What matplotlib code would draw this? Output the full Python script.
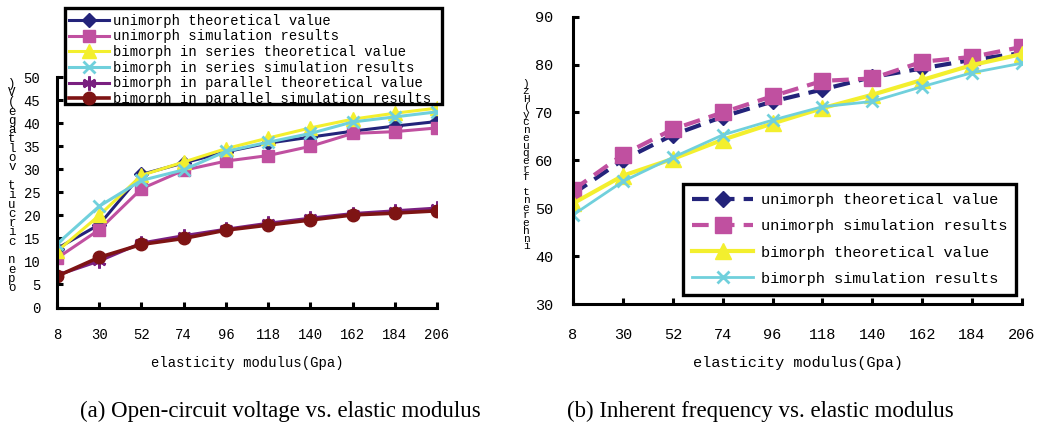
import matplotlib
matplotlib.use("Agg")
import matplotlib.pyplot as plt
from matplotlib.patches import Rectangle

# x categories (elastic modulus, GPa)
modulus = ["8", "30", "52", "74", "96", "118", "140", "162", "184", "206"]

# (a) open-circuit voltage (V)
uni_theory_v = [12.8, 18.0, 28.9, 31.4, 33.8, 35.7, 37.0, 38.3, 39.4, 40.4]
uni_sim_v = [10.7, 16.9, 25.8, 29.8, 31.8, 33.0, 35.0, 37.8, 38.2, 39.0]
series_theory_v = [12.2, 20.0, 28.7, 31.6, 34.5, 36.8, 39.0, 40.9, 42.2, 43.3]
series_sim_v = [13.8, 22.0, 27.6, 29.9, 33.9, 35.9, 37.8, 40.3, 41.4, 42.5]
parallel_theory_v = [7.0, 10.1, 14.0, 15.6, 17.0, 18.3, 19.4, 20.4, 21.0, 21.6]
parallel_sim_v = [6.8, 10.9, 13.7, 15.0, 16.8, 17.9, 19.0, 20.1, 20.5, 21.0]

# (b) inherent frequency (Hz)
uni_theory_f = [53.0, 60.1, 65.3, 69.1, 72.3, 74.8, 77.4, 79.2, 81.0, 82.4]
uni_sim_f = [53.8, 61.2, 66.5, 70.0, 73.4, 76.6, 77.1, 80.6, 81.6, 83.7]
bi_theory_f = [51.0, 56.8, 60.3, 64.3, 67.7, 70.9, 73.7, 76.8, 79.9, 82.2]
bi_sim_f = [48.6, 55.6, 60.6, 65.3, 68.4, 71.2, 72.3, 75.4, 78.3, 80.3]

NAVY = "#23237a"
PINK = "#c050a0"
YELLOW = "#f3ef2e"
CYAN = "#70d0dc"
PURPLE = "#7a2080"
DARKRED = "#7e1414"

MONO = "Liberation Mono"
W, H = 1040, 432

fig = plt.figure(figsize=(10.4, 4.32), dpi=100)


def style_axes(ax, fs, xpad, ypad):
    for side in ("top", "right"):
        ax.spines[side].set_visible(False)
    for side in ("left", "bottom"):
        ax.spines[side].set_linewidth(2.2)
        ax.spines[side].set_color("black")
    ax.tick_params(direction="in", length=4, width=2.2, labelsize=fs)
    ax.tick_params(axis="x", pad=xpad)
    ax.tick_params(axis="y", pad=ypad)
    for lab in ax.get_xticklabels() + ax.get_yticklabels():
        lab.set_fontfamily(MONO)


# ---------- (a) ----------
ax1 = fig.add_axes([57 / W, 1 - 307.5 / H, 380 / W, 230.2 / H])
ax1.plot(modulus, uni_theory_v, color=NAVY, lw=2.2, marker="D", ms=7,
         label="unimorph theoretical value")
ax1.plot(modulus, uni_sim_v, color=PINK, lw=2.2, marker="s", ms=9,
         label="unimorph simulation results")
ax1.plot(modulus, series_theory_v, color=YELLOW, lw=2.2, marker="^", ms=10,
         label="bimorph in series theoretical value")
ax1.plot(modulus, series_sim_v, color=CYAN, lw=2.2, marker="x", ms=8, mew=2,
         label="bimorph in series simulation results")
ax1.plot(modulus, parallel_theory_v, color=PURPLE, lw=2.2, marker=(6, 2, 0), ms=10, mew=2,
         label="bimorph in parallel theoretical value")
ax1.plot(modulus, parallel_sim_v, color=DARKRED, lw=2.6, marker="o", ms=9,
         label="bimorph in parallel simulation results")
ax1.set_xlim(0, 9)
ax1.set_ylim(0, 50)
ax1.set_yticks(range(0, 51, 5))
style_axes(ax1, 10, 15, 12)
ax1.set_xlabel("elasticity modulus(Gpa)", fontsize=10, fontfamily=MONO, labelpad=10)

# y label drawn as stacked characters, like the source figure
ylab_a = "open circuit voltage(V)"[::-1]
fig.text(12 / W, 1 - 186 / H, "\n".join(ylab_a), fontsize=9, fontfamily=MONO,
         ha="center", va="center", linespacing=0.7)

leg1 = fig.legend(handles=ax1.get_lines(), loc="upper left",
                  bbox_to_anchor=(66 / W, 1 - 11 / H), borderaxespad=0,
                  frameon=False, prop={"family": MONO, "size": 10},
                  handlelength=2.9, handletextpad=0.3, labelspacing=0.12,
                  borderpad=0.2)
fig.patches.append(Rectangle((65 / W, 1 - 104 / H), 377 / W, 96 / H,
                             transform=fig.transFigure, fill=False,
                             lw=2.4, edgecolor="black", zorder=5))

# ---------- (b) ----------
ax2 = fig.add_axes([573 / W, 1 - 304 / H, 449 / W, 287.3 / H])
ax2.plot(modulus, uni_theory_f, color=NAVY, lw=3, ls=(0, (4, 2.2)), marker="D", ms=8,
         label="unimorph theoretical value")
ax2.plot(modulus, uni_sim_f, color=PINK, lw=3, ls=(0, (4, 2.2)), marker="s", ms=11,
         label="unimorph simulation results")
ax2.plot(modulus, bi_theory_f, color=YELLOW, lw=3, marker="^", ms=11,
         label="bimorph theoretical value")
ax2.plot(modulus, bi_sim_f, color=CYAN, lw=2, marker="x", ms=9, mew=2,
         label="bimorph simulation results")
ax2.set_xlim(0, 9)
ax2.set_ylim(30, 90)
ax2.set_yticks(range(30, 91, 10))
style_axes(ax2, 11, 17, 14)
ax2.set_xlabel("elasticity modulus(Gpa)", fontsize=11, fontfamily=MONO, labelpad=10)

ylab_b = "inherent frequency(Hz)"[::-1]
fig.text(526 / W, 1 - 165 / H, "\n".join(ylab_b), fontsize=8, fontfamily=MONO,
         ha="center", va="center", linespacing=0.72)

leg2 = fig.legend(handles=ax2.get_lines(), loc="upper left",
                  bbox_to_anchor=(683 / W, 1 - 184 / H), borderaxespad=0,
                  fancybox=False, edgecolor="black", framealpha=1,
                  prop={"family": MONO, "size": 11},
                  handlelength=4.0, handletextpad=0.5, labelspacing=0.8,
                  borderpad=0.6)
leg2.get_frame().set_linewidth(2.4)

# ---------- captions ----------
fig.text(280 / W, 1 - 411 / H, "(a) Open-circuit voltage vs. elastic modulus",
         fontsize=16.5, fontfamily="Liberation Serif", ha="center", va="center")
fig.text(760 / W, 1 - 411 / H, "(b) Inherent frequency vs. elastic modulus",
         fontsize=16.5, fontfamily="Liberation Serif", ha="center", va="center")

fig.savefig("out.png", dpi=100)
